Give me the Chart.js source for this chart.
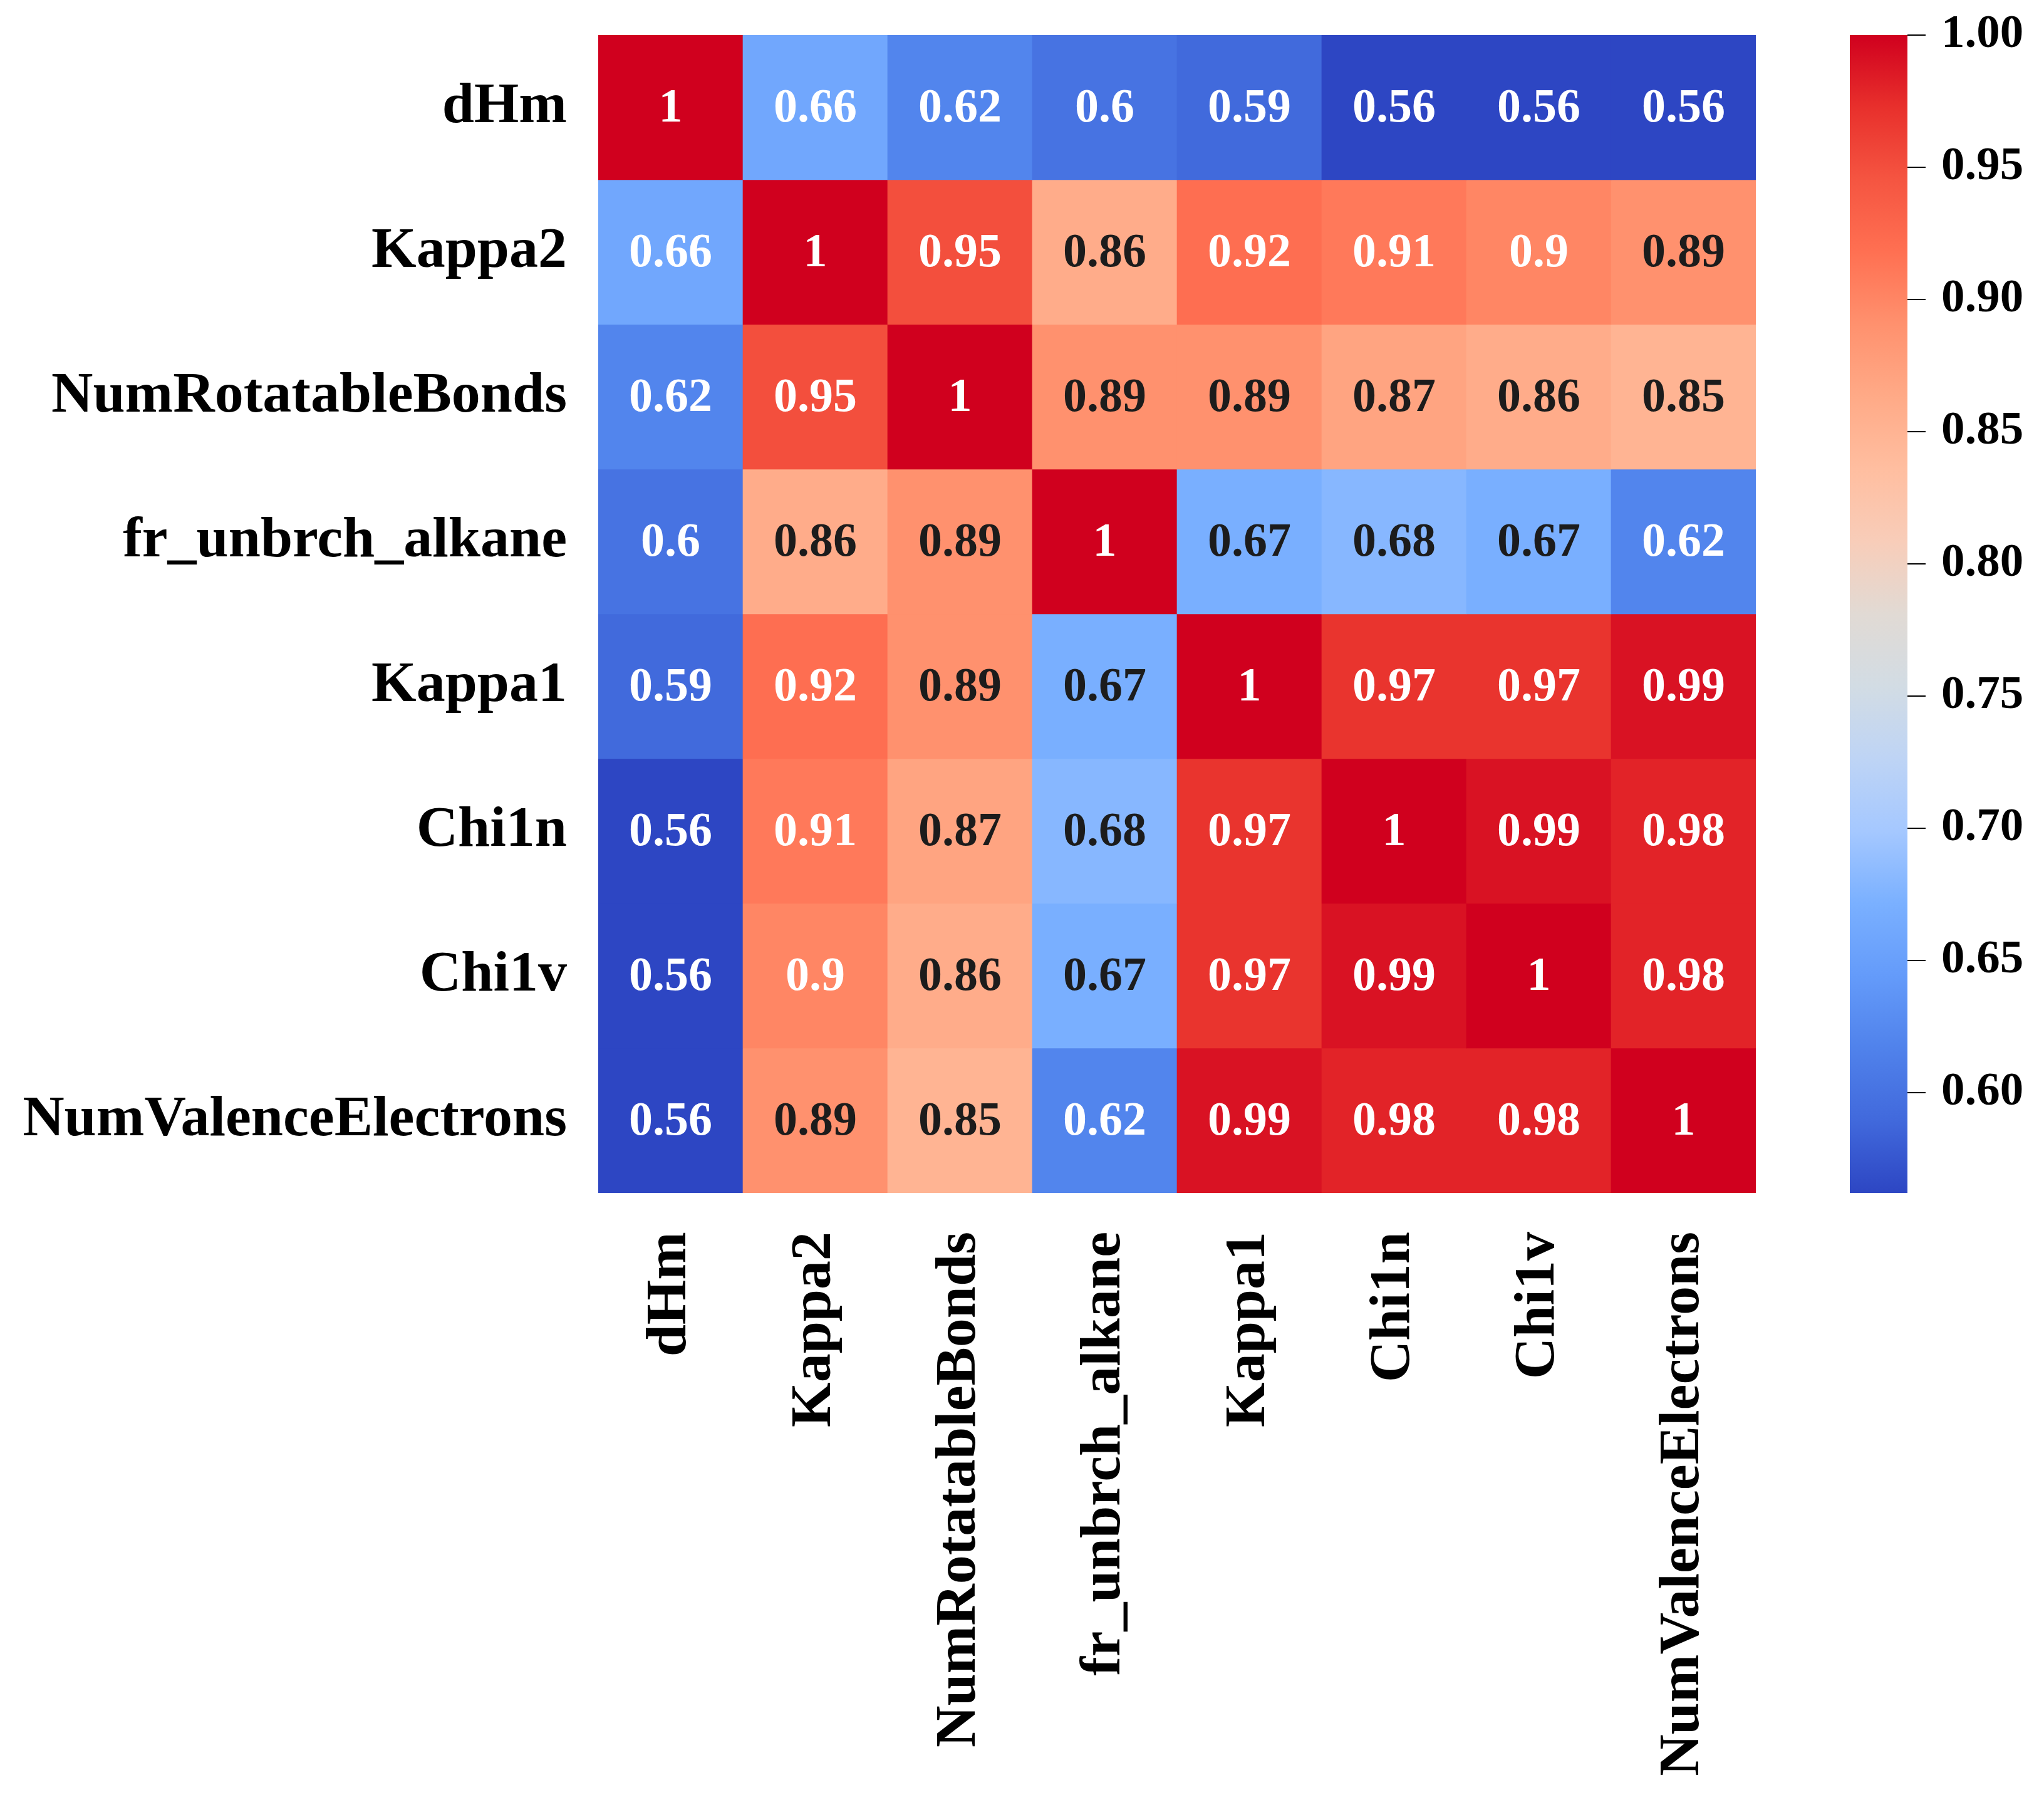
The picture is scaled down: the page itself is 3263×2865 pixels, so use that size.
<!DOCTYPE html>
<html>
<head>
<meta charset="utf-8">
<script src="https://cdn.jsdelivr.net/npm/chart.js@4.4.1/dist/chart.umd.min.js"></script>
<style>
  body { margin: 0; background: #fff; width: 3263px; height: 2865px; position: relative; overflow: hidden; }
  #heat { position: absolute; left: 0; top: 0; }
  #bar { position: absolute; left: 2900px; top: 0; }
</style>
</head>
<body>
<canvas id="heat" width="2900" height="2865"></canvas>
<canvas id="bar" width="363" height="2865"></canvas>
<script>
var labels = ['dHm', 'Kappa2', 'NumRotatableBonds', 'fr_unbrch_alkane', 'Kappa1', 'Chi1n', 'Chi1v', 'NumValenceElectrons'];

var rowDHm       = [1, 0.66, 0.62, 0.6, 0.59, 0.56, 0.56, 0.56];
var rowKappa2    = [0.66, 1, 0.95, 0.86, 0.92, 0.91, 0.9, 0.89];
var rowRotBonds  = [0.62, 0.95, 1, 0.89, 0.89, 0.87, 0.86, 0.85];
var rowAlkane    = [0.6, 0.86, 0.89, 1, 0.67, 0.68, 0.67, 0.62];
var rowKappa1    = [0.59, 0.92, 0.89, 0.67, 1, 0.97, 0.97, 0.99];
var rowChi1n     = [0.56, 0.91, 0.87, 0.68, 0.97, 1, 0.99, 0.98];
var rowChi1v     = [0.56, 0.9, 0.86, 0.67, 0.97, 0.99, 1, 0.98];
var rowValence   = [0.56, 0.89, 0.85, 0.62, 0.99, 0.98, 0.98, 1];
var matrix = [rowDHm, rowKappa2, rowRotBonds, rowAlkane, rowKappa1, rowChi1n, rowChi1v, rowValence];

var colorbarTicks = [0.60, 0.65, 0.70, 0.75, 0.80, 0.85, 0.90, 0.95, 1.00];
var vMin = 0.562;
var vMax = 1;

// colours as they look in the picture (coolwarm, a bit more saturated)
var shownStops = [
  [45, 70, 195], [65, 105, 220], [80, 130, 235], [100, 155, 250],
  [122, 176, 255], [165, 200, 255], [190, 212, 245], [210, 220, 228],
  [225, 218, 212], [248, 205, 185], [255, 190, 160], [255, 170, 135],
  [255, 145, 110], [255, 112, 82], [245, 85, 65], [232, 48, 44], [208, 0, 30]
];
// plain matplotlib coolwarm, only used to decide text colour like seaborn does
var coolwarmStops = [
  [59, 76, 192], [98, 130, 234], [141, 176, 254], [184, 208, 249], [221, 221, 221],
  [245, 196, 173], [244, 154, 123], [222, 96, 77], [180, 4, 38]
];

var labelFont = { family: "'Liberation Serif', 'Times New Roman', serif", size: 92, weight: 'bold' };
var cellFont = "bold 76px 'Liberation Serif', 'Times New Roman', serif";
var colorbarFont = { family: "'Liberation Serif', 'Times New Roman', serif", size: 75, weight: 'bold' };

function pickColor(stops, t) {
  t = Math.max(0, Math.min(1, t));
  var pos = t * (stops.length - 1);
  var i = Math.min(Math.floor(pos), stops.length - 2);
  var f = pos - i;
  var a = stops[i], b = stops[i + 1];
  return [a[0] + (b[0] - a[0]) * f, a[1] + (b[1] - a[1]) * f, a[2] + (b[2] - a[2]) * f];
}

function toNorm(v) {
  return (v - vMin) / (vMax - vMin);
}

function rgb(c) {
  return 'rgb(' + Math.round(c[0]) + ',' + Math.round(c[1]) + ',' + Math.round(c[2]) + ')';
}

function luminance(c) {
  var lin = c.map(function (x) {
    x = x / 255;
    return x <= 0.03928 ? x / 12.92 : Math.pow((x + 0.055) / 1.055, 2.4);
  });
  return 0.2126 * lin[0] + 0.7152 * lin[1] + 0.0722 * lin[2];
}

// no extra room for the end labels, the plot box is placed by hand
function noPadding(scale) {
  scale.paddingTop = 0;
  scale.paddingBottom = 0;
  scale.paddingLeft = 0;
  scale.paddingRight = 0;
}

var annotate = {
  id: 'annotate',
  afterDatasetsDraw: function (chart) {
    var ctx = chart.ctx;
    ctx.save();
    ctx.font = cellFont;
    ctx.textAlign = 'center';
    ctx.textBaseline = 'middle';
    matrix.forEach(function (row, i) {
      var meta = chart.getDatasetMeta(i);
      row.forEach(function (v, j) {
        var el = meta.data[j];
        var lum = luminance(pickColor(coolwarmStops, toNorm(v)));
        ctx.fillStyle = lum > 0.408 ? '#1c1c1c' : '#ffffff';
        ctx.fillText(String(v), el.x, (el.y + el.base) / 2 + 3);
      });
    });
    ctx.restore();
  }
};

new Chart(document.getElementById('heat'), {
  type: 'bar',
  data: {
    labels: labels,
    datasets: matrix.map(function (row, i) {
      return {
        label: labels[i],
        data: row.map(function () { return 1; }),
        backgroundColor: row.map(function (v) { return rgb(pickColor(shownStops, toNorm(v))); }),
        borderWidth: 0,
        barPercentage: 1,
        categoryPercentage: 1
      };
    })
  },
  options: {
    responsive: false,
    animation: false,
    devicePixelRatio: 1,
    layout: { padding: { top: 56, right: 97, left: 0, bottom: 0 } },
    plugins: { legend: { display: false }, tooltip: { enabled: false } },
    scales: {
      x: {
        stacked: true,
        grid: { display: false, drawTicks: false },
        border: { display: false },
        ticks: { minRotation: 90, maxRotation: 90, autoSkip: false, padding: 62, color: '#000', font: labelFont },
        afterFit: function (scale) { scale.height = 961; noPadding(scale); }
      },
      y: {
        stacked: true,
        reverse: true,
        min: 0,
        max: labels.length,
        grid: { display: false, drawTicks: false },
        border: { display: false },
        afterBuildTicks: function (scale) {
          scale.ticks = labels.map(function (_, i) { return { value: i + 0.5 }; });
        },
        ticks: {
          autoSkip: false,
          padding: 50,
          color: '#000',
          font: labelFont,
          callback: function (value) { return labels[Math.floor(value)]; }
        },
        afterFit: function (scale) { scale.width = 955; noPadding(scale); }
      }
    }
  },
  plugins: [annotate]
});

new Chart(document.getElementById('bar'), {
  type: 'bar',
  data: {
    labels: [''],
    datasets: [{
      data: [[vMin, vMax]],
      backgroundColor: function (context) {
        var area = context.chart.chartArea;
        if (!area) return rgb(shownStops[0]);
        var grad = context.chart.ctx.createLinearGradient(0, area.bottom, 0, area.top);
        shownStops.forEach(function (c, k) {
          grad.addColorStop(k / (shownStops.length - 1), rgb(c));
        });
        return grad;
      },
      borderWidth: 0,
      barPercentage: 1,
      categoryPercentage: 1
    }]
  },
  options: {
    responsive: false,
    animation: false,
    devicePixelRatio: 1,
    layout: { padding: { left: 53, top: 56, bottom: 961, right: 0 } },
    plugins: { legend: { display: false }, tooltip: { enabled: false } },
    scales: {
      x: { display: false },
      y: {
        position: 'right',
        min: vMin,
        max: vMax,
        afterBuildTicks: function (scale) {
          scale.ticks = colorbarTicks.map(function (v) { return { value: v }; });
        },
        grid: { drawOnChartArea: false, drawTicks: true, tickLength: 29, color: '#000', lineWidth: 2 },
        border: { display: false },
        ticks: {
          padding: 25,
          color: '#000',
          font: colorbarFont,
          callback: function (value) { return value.toFixed(2); }
        },
        afterFit: function (scale) { scale.width = 218; noPadding(scale); }
      }
    }
  }
});
</script>
</body>
</html>
